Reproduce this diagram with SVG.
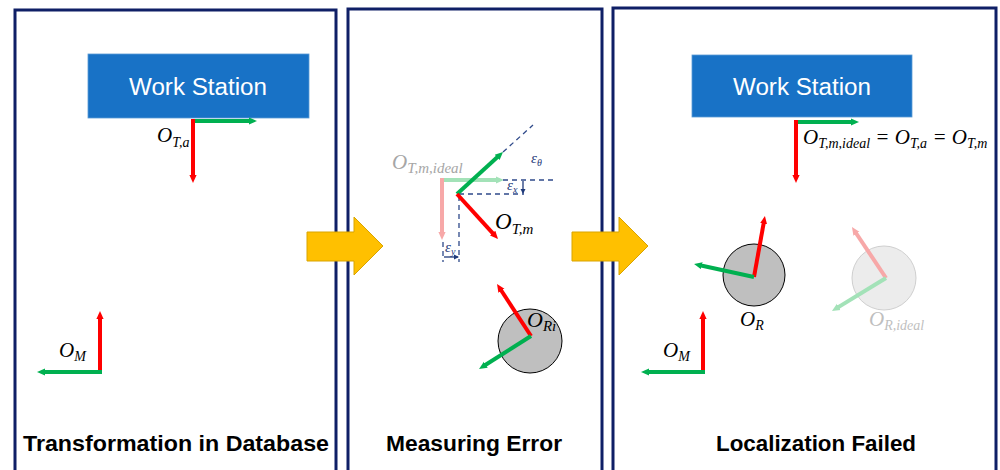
<svg xmlns="http://www.w3.org/2000/svg" width="1000" height="470" viewBox="0 0 1000 470">
<style>
.panel{fill:#fff;stroke:#0f1f66;stroke-width:3}
.ws{fill:#1872c6;stroke:#5b9bd5;stroke-width:0.8}
.wst{font-family:"Liberation Sans",Arial,sans-serif;font-size:23px;fill:#fff;text-anchor:middle}
.cap{font-family:"Liberation Sans",Arial,sans-serif;font-size:22px;font-weight:bold;fill:#000;text-anchor:middle}
.m{font-family:"Liberation Serif","Times New Roman",serif;font-style:italic;font-size:21px;fill:#000}
.s{font-size:14px}
.g{fill:#a6a6a6}
.eps{font-family:"Liberation Serif","Times New Roman",serif;font-style:italic;font-size:15px;fill:#1f3a7a}
.es{font-size:10px}
.r{stroke:#ff0000;stroke-width:4;fill:none;marker-end:url(#hr)}
.gr{stroke:#00b050;stroke-width:4;fill:none;marker-end:url(#hg)}
.rf{stroke:#f7a8a8;stroke-width:4;fill:none;marker-end:url(#hrf)}
.gf{stroke:#a3e2b8;stroke-width:4;fill:none;marker-end:url(#hgf)}
.dash{stroke:#2f4a8a;stroke-width:1.3;stroke-dasharray:5,4;fill:none}
.ea{stroke:#1f3a7a;stroke-width:1.3;fill:none;marker-end:url(#hn)}
.yarrow{fill:#ffc000;stroke:#d9a400;stroke-width:1}
</style>
<defs>
<marker id="hr" markerUnits="userSpaceOnUse" markerWidth="10" markerHeight="10" refX="2" refY="0" viewBox="0 -5 10 10" orient="auto"><path d="M0,-3.6 L8,0 L0,3.6 z" fill="#ff0000"/></marker>
<marker id="hg" markerUnits="userSpaceOnUse" markerWidth="10" markerHeight="10" refX="2" refY="0" viewBox="0 -5 10 10" orient="auto"><path d="M0,-3.6 L8,0 L0,3.6 z" fill="#00b050"/></marker>
<marker id="hrf" markerUnits="userSpaceOnUse" markerWidth="10" markerHeight="10" refX="2" refY="0" viewBox="0 -5 10 10" orient="auto"><path d="M0,-3.6 L8,0 L0,3.6 z" fill="#f7a8a8"/></marker>
<marker id="hgf" markerUnits="userSpaceOnUse" markerWidth="10" markerHeight="10" refX="2" refY="0" viewBox="0 -5 10 10" orient="auto"><path d="M0,-3.6 L8,0 L0,3.6 z" fill="#a3e2b8"/></marker>
<marker id="hn" markerUnits="userSpaceOnUse" markerWidth="6" markerHeight="6" refX="4" refY="0" viewBox="0 -3 6 6" orient="auto"><path d="M0,-2.5 L5,0 L0,2.5 z" fill="#1f3a7a"/></marker>
</defs>

<g id="panel1">
<rect class="panel" x="15" y="10" width="321" height="475"/>
<text class="cap" x="176" y="451" textLength="306" lengthAdjust="spacingAndGlyphs">Transformation in Database</text>
</g>
<g id="panel2">
<rect class="panel" x="348" y="9" width="254" height="475"/>
<text class="cap" x="474" y="451" textLength="176" lengthAdjust="spacingAndGlyphs">Measuring Error</text>
</g>
<g id="panel3">
<rect class="panel" x="613" y="8" width="383" height="475"/>
<text class="cap" x="816" y="451" textLength="200" lengthAdjust="spacingAndGlyphs">Localization Failed</text>
</g>

<g id="workstation1">
<rect class="ws" x="88" y="54" width="221" height="64"/>
<text class="wst" x="198" y="95" textLength="138" lengthAdjust="spacingAndGlyphs">Work Station</text>
</g>
<g id="workstation3">
<rect class="ws" x="692" y="55" width="220" height="62"/>
<text class="wst" x="802" y="95" textLength="138" lengthAdjust="spacingAndGlyphs">Work Station</text>
</g>

<g id="frame-Ta">
<line class="gr" x1="193" y1="121" x2="251" y2="121"/>
<line class="r" x1="193" y1="119" x2="193" y2="177"/>
<text class="m" x="157" y="142">O<tspan class="s" dy="5">T,a</tspan></text>
</g>
<g id="frame-M1">
<line class="r" x1="100" y1="374" x2="100" y2="317"/>
<line class="gr" x1="102" y1="372" x2="43" y2="372"/>
<text class="m" x="59" y="357">O<tspan class="s" dy="4">M</tspan></text>
</g>

<g id="frame-Tm-ideal">
<line class="gf" x1="442" y1="180" x2="498" y2="180"/>
<line class="rf" x1="442" y1="178" x2="442" y2="234"/>
<text class="m g" x="392" y="169">O<tspan class="s" dy="4" style="font-size:15px">T,m,ideal</tspan></text>
</g>
<g id="errors">
<line class="dash" x1="503" y1="152" x2="533" y2="125"/>
<line class="dash" x1="503" y1="180" x2="556" y2="180"/>
<line class="dash" x1="459" y1="194" x2="524" y2="194"/>
<line class="dash" x1="459" y1="196" x2="459" y2="262"/>
<line class="dash" x1="443" y1="242" x2="443" y2="262"/>
<line class="ea" x1="523" y1="181" x2="523" y2="193"/>
<line class="ea" x1="444" y1="257" x2="458" y2="257"/>
<text class="eps" x="531" y="163">ε<tspan class="es" dy="3">θ</tspan></text>
<text class="eps" x="507" y="190">ε<tspan class="es" dy="3">x</tspan></text>
<text class="eps" x="445" y="252">ε<tspan class="es" dy="3">y</tspan></text>
</g>
<g id="frame-Tm">
<line class="gr" x1="457" y1="194" x2="498.6" y2="156"/>
<line class="r" x1="457" y1="194" x2="494" y2="234.6"/>
<text class="m" x="495" y="229" style="font-size:23px">O<tspan class="s" dy="5" style="font-size:15px">T,m</tspan></text>
</g>
<g id="robot-Ri">
<circle cx="530" cy="341" r="32" fill="#bfbfbf" stroke="#000" stroke-width="1"/>
<line class="r" x1="531" y1="336" x2="500.3" y2="289"/>
<line class="gr" x1="531" y1="336" x2="484.1" y2="365.8"/>
<text class="m" x="527" y="327" style="font-size:22px">O<tspan class="s" dy="4" style="font-size:15px">Ri</tspan></text>
</g>

<g id="frame-T3">
<line class="gr" x1="796" y1="122" x2="853" y2="122"/>
<line class="r" x1="796" y1="120" x2="796" y2="177"/>
<text class="m" x="803" y="144">O<tspan class="s" dy="4">T,m,ideal</tspan><tspan dy="-4"> = O</tspan><tspan class="s" dy="4">T,a</tspan><tspan dy="-4"> = O</tspan><tspan class="s" dy="4">T,m</tspan></text>
</g>
<g id="robot-R">
<circle cx="754" cy="275" r="31" fill="#bfbfbf" stroke="#000" stroke-width="1"/>
<line class="r" x1="754" y1="277" x2="763.9" y2="221.9"/>
<line class="gr" x1="754" y1="277" x2="699.9" y2="265.3"/>
<text class="m" x="740" y="326">O<tspan class="s" dy="4">R</tspan></text>
</g>
<g id="robot-R-ideal">
<circle cx="884" cy="278" r="32" fill="#ececec" stroke="#cfcfcf" stroke-width="1"/>
<line class="rf" x1="886" y1="278" x2="855.3" y2="232"/>
<line class="gf" x1="886" y1="278" x2="837.1" y2="307.9"/>
<text class="m" x="869" y="326" style="fill:#bfbfbf">O<tspan class="s" dy="4">R,ideal</tspan></text>
</g>
<g id="frame-M3">
<line class="r" x1="703" y1="374" x2="703" y2="317"/>
<line class="gr" x1="705" y1="372" x2="647" y2="372"/>
<text class="m" x="663" y="357">O<tspan class="s" dy="4">M</tspan></text>
</g>

<g id="connectors">
<path class="yarrow" d="M307,232 H354 V217 L383,246 L354,275 V261 H307 Z"/>
<path class="yarrow" d="M572,232 H619 V217 L648,246 L619,275 V261 H572 Z"/>
</g>
</svg>
